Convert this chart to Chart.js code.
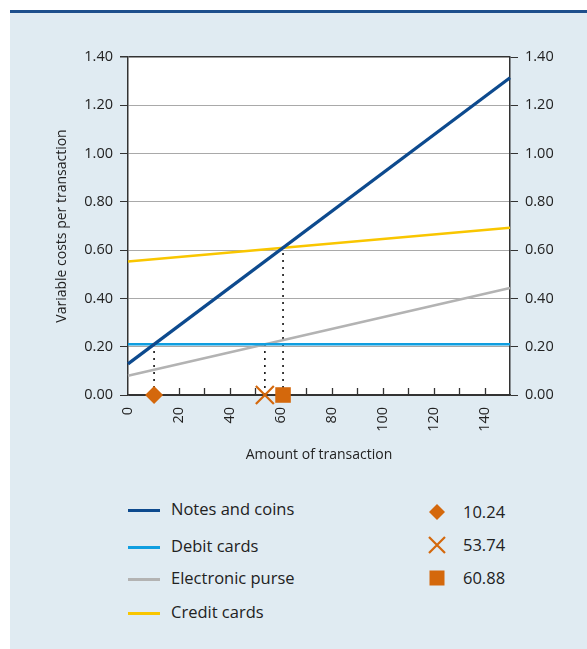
<!DOCTYPE html>
<html>
<head>
<meta charset="utf-8">
<script src="https://cdn.jsdelivr.net/npm/chart.js@4.4.1/dist/chart.umd.min.js"></script>
<style>
  html, body { margin: 0; padding: 0; background: #ffffff; width: 587px; height: 649px; overflow: hidden; }
  #panel { position: absolute; left: 10px; top: 12px; width: 577px; height: 637px; background: #e0ebf2; }
  #topline { position: absolute; left: 10px; top: 10px; width: 577px; height: 2.5px; background: #1d4f8c; }
  #wrap { position: absolute; left: 0; top: 0; width: 587px; height: 470px; }
  .lg { position: absolute; font-family: "Open Sans", sans-serif; font-size: 16.5px; color: #222; line-height: 20px; white-space: nowrap; }
  .sw { position: absolute; left: 128px; width: 32px; height: 3px; }
  .mk { position: absolute; }
</style>
</head>
<body>
<div id="panel"></div>
<div id="topline"></div>
<div id="wrap"><canvas id="c" width="587" height="470"></canvas></div>
<div id="legend"></div>
<script>
// ---- data ----
const xRange = [0, 150];                 // amount of transaction (line endpoints)
const notesCoins = [0.129, 1.314];
const debitCards = [0.21, 0.21];
const electronicPurse = [0.08, 0.443];
const creditCards = [0.553, 0.693];
const seriesNames = ["Notes and coins", "Debit cards", "Electronic purse", "Credit cards"];
const seriesColors = ["#0d4a8e", "#0f9ee0", "#b3b3b3", "#f9c600"];
const breakEvenAmounts = [10.24, 53.74, 60.88];
const breakEvenCosts = [0.21, 0.21, 0.61];
const breakEvenLabels = ["10.24", "53.74", "60.88"];
const breakEvenStyles = ["rectRot", "crossRot", "rect"];
const markerColor = "#d4680c";

const FONT = "'Open Sans', sans-serif";
const txt = "#222";

const seriesValues = [notesCoins, debitCards, electronicPurse, creditCards];
const lineSets = seriesValues.map((vals, i) => ({
  label: seriesNames[i],
  data: xRange.map((x, j) => ({ x: x, y: vals[j] })),
  borderColor: seriesColors[i],
  borderWidth: i === 0 ? 3.2 : 2.6,
  pointRadius: 0,
  order: i + 1,
  clip: false
}));
const dotSets = breakEvenAmounts.map((a, i) => ({
  label: "dots" + i,
  data: [{ x: a, y: 0 }, { x: a, y: breakEvenCosts[i] }],
  borderColor: "#111",
  borderWidth: 1.6,
  borderDash: [2, 5],
  pointRadius: 0,
  order: 10
}));
const markerSet = {
  label: "markers",
  data: breakEvenAmounts.map(a => ({ x: a, y: 0 })),
  showLine: false,
  pointStyle: breakEvenStyles,
  pointRadius: [9, 12.7, 11],
  pointBorderWidth: [0, 2.2, 0],
  pointBackgroundColor: markerColor,
  pointBorderColor: markerColor,
  pointHoverRadius: [9, 12.7, 11],
  order: 0,
  clip: false
};

const plotBg = {
  id: "plotBg",
  beforeDraw(chart) {
    const { ctx, chartArea: a } = chart;
    ctx.save();
    ctx.fillStyle = "#ffffff";
    ctx.fillRect(a.left, a.top, a.right - a.left, a.bottom - a.top);
    ctx.restore();
  },
  beforeDatasetsDraw(chart) {
    const { ctx, chartArea: a } = chart;
    const xs = chart.scales.x;
    ctx.save();
    ctx.strokeStyle = "#333";
    ctx.lineWidth = 1.3;
    xs.ticks.forEach(t => {
      if (t.value <= xRange[0] || t.value >= xRange[1]) return;
      const px = Math.round(xs.getPixelForValue(t.value)) + 0.5;
      ctx.beginPath();
      ctx.moveTo(px, a.bottom);
      ctx.lineTo(px, a.bottom - 7);
      ctx.stroke();
    });
    ctx.restore();
  }
};

new Chart(document.getElementById("c"), {
  type: "line",
  data: { datasets: [...lineSets, ...dotSets, markerSet] },
  options: {
    responsive: false,
    animation: false,
    devicePixelRatio: 1,
    layout: { padding: { left: 50, top: 57, right: 0, bottom: 3 } },
    plugins: { legend: { display: false }, tooltip: { enabled: false } },
    events: [],
    scales: {
      x: {
        type: "linear",
        min: xRange[0], max: xRange[1],
        grid: { drawOnChartArea: false, drawTicks: false },
        border: { color: "#333", width: 1.5 },
        ticks: {
          stepSize: 10, autoSkip: false, maxRotation: 90, minRotation: 90, padding: 12,
          color: txt, font: { family: FONT, size: 14.5 },
          callback: v => (v % 20 === 0 && v < xRange[1]) ? String(v) : ""
        },
        title: { display: true, text: "Amount of transaction", color: txt, font: { family: FONT, size: 14 } },
        afterFit(s) { s.height = 72; }
      },
      y: {
        position: "left",
        min: 0, max: 1.4,
        grid: {
          color: c => (c.tick && (c.tick.value === 0 || Math.abs(c.tick.value - 1.4) < 1e-6)) ? "#333" : "#a9a9a9",
          lineWidth: c => (c.tick && Math.abs(c.tick.value - 1.4) < 1e-6) ? 1.5 : 1,
          tickColor: "#333", tickLength: 8
        },
        border: { color: "#333", width: 1.5 },
        ticks: { stepSize: 0.2, padding: 7, color: txt, font: { family: FONT, size: 14.5 }, callback: v => Number(v).toFixed(2) },
        title: { display: true, text: "Variable costs per transaction", color: txt, font: { family: FONT, size: 14 } },
        afterFit(s) { s.width = 78; }
      },
      y2: {
        position: "right",
        min: 0, max: 1.4,
        grid: { drawOnChartArea: false, tickColor: "#333", tickLength: 8 },
        border: { color: "#333", width: 1.5 },
        ticks: { stepSize: 0.2, padding: 7, color: txt, font: { family: FONT, size: 14.5 }, callback: v => Number(v).toFixed(2) },
        afterFit(s) { s.width = 77; }
      }
    }
  },
  plugins: [plotBg]
});

// ---- HTML legend ----
const lg = document.getElementById("legend");
const rowY = [510, 547, 579, 613];
seriesNames.forEach((n, i) => {
  const sw = document.createElement("div");
  sw.className = "sw";
  sw.style.top = (rowY[i] - 1.5) + "px";
  sw.style.background = seriesColors[i];
  lg.appendChild(sw);
  const t = document.createElement("div");
  t.className = "lg";
  t.style.left = "171px";
  t.style.top = (rowY[i] - 11) + "px";
  t.textContent = n;
  lg.appendChild(t);
});
const mkY = [512, 545, 578];
breakEvenLabels.forEach((l, i) => {
  const svg = document.createElementNS("http://www.w3.org/2000/svg", "svg");
  svg.setAttribute("width", "22"); svg.setAttribute("height", "22");
  svg.setAttribute("class", "mk");
  svg.style.left = (437 - 11) + "px";
  svg.style.top = (mkY[i] - 11) + "px";
  let shape;
  if (breakEvenStyles[i] === "rectRot") {
    shape = `<polygon points="11,3 19,11 11,19 3,11" fill="${markerColor}"/>`;
  } else if (breakEvenStyles[i] === "crossRot") {
    shape = `<path d="M3,3 L19,19 M19,3 L3,19" stroke="${markerColor}" stroke-width="2.2" fill="none"/>`;
  } else {
    shape = `<rect x="3.5" y="3.5" width="15" height="15" fill="${markerColor}"/>`;
  }
  svg.innerHTML = shape;
  lg.appendChild(svg);
  const t = document.createElement("div");
  t.className = "lg";
  t.style.left = "463px";
  t.style.top = (mkY[i] + 1 - 11) + "px";
  t.textContent = l;
  lg.appendChild(t);
});
</script>
</body>
</html>
